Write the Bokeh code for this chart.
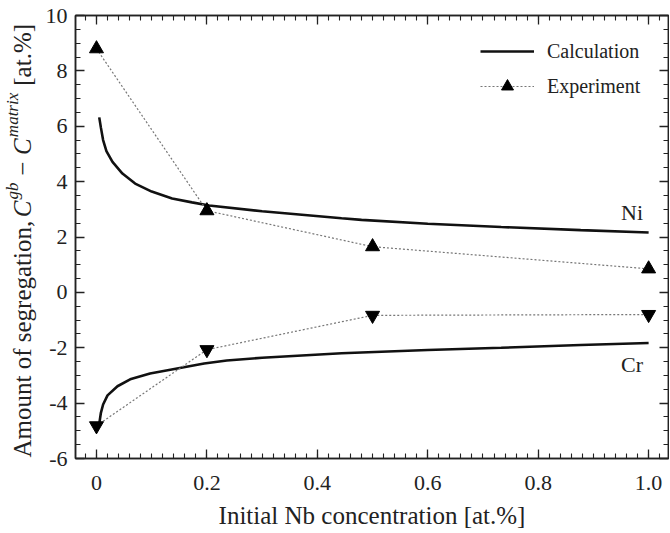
import numpy as np
from bokeh.plotting import figure
from bokeh.layouts import row
from bokeh.models import (Label, Legend, LegendItem, LinearAxis, FixedTicker, Range1d)
from bokeh.core.properties import value
from bokeh.embed import file_html
from bokeh.resources import INLINE

# ---------------- data ----------------
ni_calc_x = [0.005, 0.008, 0.012, 0.018, 0.029, 0.047, 0.07, 0.1, 0.137, 0.173,
             0.204, 0.3, 0.444, 0.48, 0.6, 0.733, 0.877, 1.0]
ni_calc_y = [6.32, 5.95, 5.5, 5.1, 4.71, 4.29, 3.93, 3.64, 3.39, 3.25,
             3.14, 2.93, 2.68, 2.62, 2.48, 2.36, 2.25, 2.16]

cr_calc_x = [0.005, 0.008, 0.012, 0.02, 0.038, 0.061, 0.097, 0.146, 0.195, 0.236,
             0.3, 0.444, 0.6, 0.733, 0.877, 1.0]
cr_calc_y = [-4.75, -4.35, -4.05, -3.72, -3.39, -3.14, -2.93, -2.75, -2.57, -2.46,
             -2.36, -2.2, -2.08, -2.0, -1.9, -1.83]

exp_x = [0, 0.2, 0.5, 1.0]
ni_exp_y = [8.8, 2.95, 1.65, 0.85]
cr_exp_y = [-4.82, -2.07, -0.83, -0.8]

x_ticks = [0, 0.2, 0.4, 0.6, 0.8, 1.0]
x_tick_labels = ["0", "0.2", "0.4", "0.6", "0.8", "1.0"]
y_ticks = [-6, -4, -2, 0, 2, 4, 6, 8, 10]
y_tick_labels = ["-6", "-4", "-2", "0", "2", "4", "6", "8", "10"]

ylabel_texts = ["Amount of segregation,", "C", "gb", "\u2212", "C", "matrix", "[at.%]"]

# ---------------- layout ----------------
FONT = "Liberation Serif"
TXT = "#222222"
H = 531
LW = 38                 # strip holding the composed y-axis title
W = 631                 # main figure
ML, MR, MT, MB = 37, 1, 15, 68
X0, X1, Y0, Y1 = -0.038, 1.036, -6, 10
PX_PER_Y = (H - MT - MB) / (Y1 - Y0)

def py2y(py):
    return Y1 - (py - MT) / PX_PER_Y

p = figure(width=W, height=H, output_backend="svg", toolbar_location=None,
           x_range=Range1d(X0, X1), y_range=Range1d(Y0, Y1),
           min_border_left=ML, min_border_right=MR, min_border_top=MT,
           min_border_bottom=MB)
p.grid.visible = False
p.outline_line_color = TXT
p.outline_line_width = 1.5
p.background_fill_color = "white"
p.border_fill_color = "white"

x_minor = [round(v, 3) for v in np.arange(-0.02, 1.03, 0.02)]
y_minor = [round(v, 2) for v in np.arange(-6, 10.01, 0.5)]
xt = FixedTicker(ticks=x_ticks, minor_ticks=x_minor)
yt = FixedTicker(ticks=y_ticks, minor_ticks=y_minor)

def style_axis(ax, ticker, ticks, labels=None):
    ax.ticker = ticker
    ax.axis_line_color = TXT
    ax.axis_line_width = 1.5
    ax.major_tick_in = 9
    ax.major_tick_out = 0
    ax.minor_tick_in = 5
    ax.minor_tick_out = 0
    ax.major_tick_line_color = TXT
    ax.minor_tick_line_color = TXT
    ax.major_tick_line_width = 1.3
    ax.minor_tick_line_width = 1.1
    ax.major_label_text_font = FONT
    ax.major_label_text_color = TXT
    if labels is None:
        ax.major_label_overrides = {v: "" for v in ticks}
        ax.major_label_text_font_size = "1px"
        ax.major_label_standoff = 0
    else:
        ax.major_label_overrides = {v: l for v, l in zip(ticks, labels)}
        ax.major_label_text_font_size = "22px"

style_axis(p.xaxis[0], xt, x_ticks, x_tick_labels)
style_axis(p.yaxis[0], yt, y_ticks, y_tick_labels)
p.xaxis[0].major_label_standoff = 17
p.yaxis[0].major_label_standoff = 8
p.xaxis[0].axis_label = "Initial Nb concentration [at.%]"
p.xaxis[0].axis_label_text_font = FONT
p.xaxis[0].axis_label_text_font_size = "25px"
p.xaxis[0].axis_label_text_font_style = "normal"
p.xaxis[0].axis_label_text_color = TXT
p.xaxis[0].axis_label_standoff = 9

top = LinearAxis()
style_axis(top, xt, x_ticks)
p.add_layout(top, "above")
right = LinearAxis()
style_axis(right, yt, y_ticks)
p.add_layout(right, "right")

# ---------------- glyphs ----------------
ni_line = p.line(ni_calc_x, ni_calc_y, line_color="#111111", line_width=2.6)
p.line(cr_calc_x, cr_calc_y, line_color="#111111", line_width=2.6)

ni_dots = p.line(exp_x, ni_exp_y, line_color="#777777", line_width=1.2, line_dash="2 2")
p.line(exp_x, cr_exp_y, line_color="#777777", line_width=1.2, line_dash="2 2")
ni_mark = p.scatter(exp_x, ni_exp_y, marker="triangle", size=14,
                    fill_color="black", line_color="black")
p.scatter(exp_x, cr_exp_y, marker="inverted_triangle", size=14,
          fill_color="black", line_color="black")

for txt, yy in (("Ni", 2.9), ("Cr", -2.6)):
    p.add_layout(Label(x=0.99, y=yy, text=txt, text_align="right",
                       text_baseline="middle", text_font=FONT,
                       text_font_size="22px", text_color=TXT))

legend = Legend(items=[LegendItem(label="Calculation", renderers=[ni_line]),
                       LegendItem(label="Experiment", renderers=[ni_dots, ni_mark])],
                location="top_right", margin=21, padding=13,
                glyph_width=54, glyph_height=30, label_height=30, label_width=100,
                label_standoff=13, spacing=5,
                label_text_font=FONT, label_text_font_size="20px",
                label_text_color=TXT,
                border_line_color=None, background_fill_alpha=0)
p.add_layout(legend)

# ---------------- y-axis title strip (frame shares the main y range) ----------------
q = figure(width=LW, height=H, output_backend="svg", toolbar_location=None,
           x_range=Range1d(0, LW), y_range=p.y_range,
           x_axis_type=None, y_axis_type=None,
           min_border_left=0, min_border_right=0, min_border_top=MT, min_border_bottom=MB)
q.grid.visible = False
q.outline_line_color = None
q.background_fill_color = "white"
q.border_fill_color = "white"

# (font size, style, baseline x px, start y px from top) for each title piece
piece_style = [("25px", "normal", 22, 462),
               ("25px", "italic", 22, 219),
               ("17px", "italic", 12, 201),
               ("25px", "normal", 22, 177),
               ("25px", "italic", 22, 156),
               ("17px", "italic", 12, 138),
               ("25px", "normal", 22, 86)]
for txt, (fs, st, bx, sy) in zip(ylabel_texts, piece_style):
    q.text(x=[bx], y=[py2y(sy)], text=[txt], angle=np.pi / 2,
           text_align="left", text_baseline="alphabetic",
           text_font=value(FONT), text_font_size=value(fs),
           text_font_style=st, text_color=TXT)

layout = row(q, p)
open("out.html", "w").write(file_html(layout, INLINE))
